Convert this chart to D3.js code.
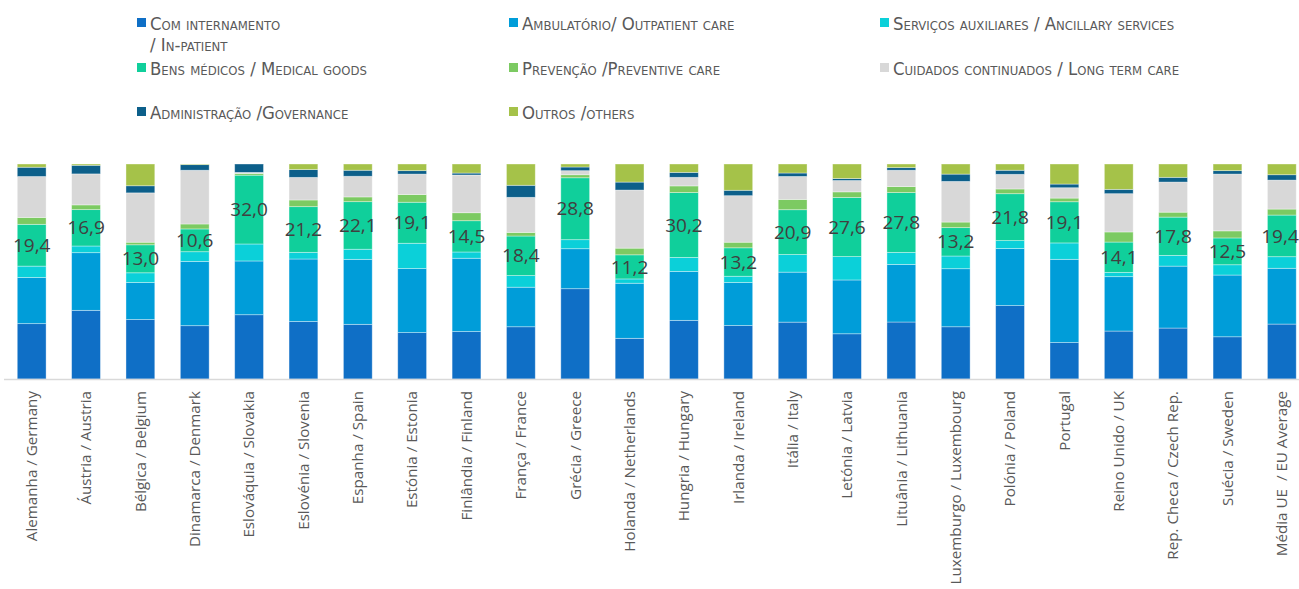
<!DOCTYPE html>
<html>
<head>
<meta charset="utf-8">
<script src="https://cdn.jsdelivr.net/npm/d3@7"></script>
<style>
  body { margin: 0; background: #fff; }
  svg { display: block; }
</style>
</head>
<body>
<div id="chart"></div>
<script>
// Categories (countries)
const countries = [
  'Alemanha / Germany', 'Áustria / Austria', 'Bélgica / Belgium', 'Dinamarca / Denmark',
  'Eslováquia / Slovakia', 'Eslovénia / Slovenia', 'Espanha / Spain', 'Estónia / Estonia',
  'Finlândia / Finland', 'França / France', 'Grécia / Greece', 'Holanda / Netherlands',
  'Hungria / Hungary', 'Irlanda / Ireland', 'Itália / Italy', 'Letónia / Latvia',
  'Lituânia / Lithuania', 'Luxemburgo / Luxembourg', 'Polónia / Poland', 'Portugal',
  'Reino Unido / UK', 'Rep. Checa / Czech Rep.', 'Suécia / Sweden', 'Média UE  / EU Average'
]

// Series values (% of health expenditure)
const inpatient  = [25.7, 31.9, 27.6, 24.8, 29.9, 26.7, 25.4, 21.6, 22.0, 24.3, 42.0, 18.9, 27.3, 24.8, 26.5, 21.1, 26.5, 24.3, 34.1, 16.9, 22.3, 23.7, 19.7, 25.6]
const outpatient = [21.4, 26.8, 17.2, 29.9, 25.0, 29.0, 30.2, 29.8, 34.0, 18.4, 18.6, 25.6, 22.8, 20.0, 23.3, 25.1, 26.8, 27.0, 26.5, 38.6, 25.3, 28.8, 28.8, 26.0]
const ancillary  = [5.3, 3.1, 4.5, 4.5, 7.9, 3.1, 4.7, 11.8, 2.9, 5.4, 4.2, 2.0, 6.5, 2.9, 8.2, 10.9, 5.6, 5.9, 3.7, 7.6, 2.0, 5.0, 4.8, 5.4]
const medical    = [19.4, 16.9, 13.0, 10.6, 32.0, 21.2, 22.1, 19.1, 14.5, 18.4, 28.8, 11.2, 30.2, 13.2, 20.9, 27.6, 27.8, 13.2, 21.8, 19.1, 14.1, 17.8, 12.5, 19.4]
const preventive = [3.2, 2.2, 1.2, 2.3, 0.8, 3.1, 2.2, 3.6, 3.7, 1.7, 1.4, 3.1, 3.1, 2.6, 4.8, 2.6, 2.8, 2.6, 2.2, 1.7, 4.7, 2.3, 3.3, 2.8]
const longTerm   = [19.0, 14.4, 22.9, 25.0, 0.5, 10.5, 9.6, 9.5, 17.5, 16.3, 1.9, 27.0, 4.0, 21.6, 10.7, 5.3, 7.6, 18.9, 6.8, 4.8, 17.8, 14.0, 26.5, 13.5]
const governance = [4.3, 4.0, 3.3, 2.6, 3.9, 3.6, 2.8, 1.6, 0.9, 5.6, 1.7, 3.7, 2.3, 2.5, 1.6, 0.9, 1.2, 3.4, 1.9, 1.7, 2.0, 2.2, 1.6, 2.5]
const others     = [1.5, 0.6, 10.1, 0.3, 0.0, 2.6, 2.9, 3.1, 4.2, 9.9, 1.4, 8.4, 3.9, 12.2, 4.2, 6.8, 1.7, 4.7, 2.9, 9.3, 11.8, 6.2, 3.1, 5.0]

// Legend labels
const seriesNames = [
  ['Com internamento', '/ In-patient'],
  ['Ambulatório/ Outpatient care'],
  ['Serviços auxiliares / Ancillary services'],
  ['Bens médicos / Medical goods'],
  ['Prevenção /Preventive care'],
  ['Cuidados continuados / Long term care'],
  ['Administração /Governance'],
  ['Outros /others']
]

const colors = ['#0f6fc6', '#009dd9', '#0bd0d9', '#10cf9b', '#7cca62', '#d8d8d8', '#0c5f8a', '#a5c249']

const width = 1299,
  height = 589,
  plotTop = 164,
  plotBottom = 379

const keys = d3.range(8)
const allSeries = [inpatient, outpatient, ancillary, medical, preventive, longTerm, governance, others]

const table = countries.map((c, i) => {
  const row = { country: c }
  keys.forEach(k => { row[k] = allSeries[k][i] })
  return row
})

const stacked = d3.stack()
  .keys(keys)
  .offset(d3.stackOffsetExpand)(table)

const svg = d3.select('#chart')
  .append('svg')
  .attr('width', width)
  .attr('height', height)

const x = d3.scaleBand()
  .domain(countries)
  .range([4.5, 1309])
  .paddingInner(0.47)
  .paddingOuter(0.235)

const y = d3.scaleLinear()
  .domain([0, 1])
  .range([plotBottom, plotTop])

// bars
svg.append('g')
  .selectAll('g')
  .data(stacked)
  .join('g')
  .attr('fill', d => colors[d.key])
  .selectAll('rect')
  .data(d => d)
  .join('rect')
  .attr('x', d => x(d.data.country))
  .attr('y', d => y(d[1]))
  .attr('width', x.bandwidth())
  .attr('height', d => Math.max(0, y(d[0]) - y(d[1])))
  .attr('stroke', '#ffffff')
  .attr('stroke-opacity', 0.45)
  .attr('stroke-width', 0.8)

// axis line
svg.append('line')
  .attr('x1', 4)
  .attr('x2', width)
  .attr('y1', plotBottom + 0.5)
  .attr('y2', plotBottom + 0.5)
  .attr('stroke', '#d9d9d9')
  .attr('stroke-width', 1.5)

// labels on medical goods segment
const med = stacked[3]
svg.append('g')
  .selectAll('text')
  .data(med)
  .join('text')
  .attr('x', d => Math.min(x(d.data.country) + x.bandwidth() / 2, width - 19))
  .attr('y', d => y((d[0] + d[1]) / 2))
  .attr('dy', '0.35em')
  .attr('text-anchor', 'middle')
  .attr('font-family', '"Open Sans", sans-serif')
  .attr('font-size', 19)
  .attr('fill', '#404040')
  .text(d => d3.format('.1f')(d.data[3]).replace('.', ','))

// x axis labels
const xAxis = d3.axisBottom(x).tickSize(0).tickPadding(0)
const gx = svg.append('g')
  .attr('transform', `translate(0, ${plotBottom})`)
  .call(xAxis)
gx.select('.domain').remove()
gx.selectAll('text')
  .attr('transform', 'rotate(-90)')
  .attr('x', -12)
  .attr('y', 0)
  .attr('dy', '0.35em')
  .attr('text-anchor', 'end')
  .attr('font-family', '"Open Sans", sans-serif')
  .attr('font-size', 15.2)
  .attr('fill', '#595959')
  .style('white-space', 'pre')

// legend
const legendX = [137, 509, 880]
const legendY = [23, 68, 112]
const legend = svg.append('g')
seriesNames.forEach((lines, i) => {
  const lx = legendX[i % 3],
    ly = legendY[Math.floor(i / 3)]
  legend.append('rect')
    .attr('x', lx)
    .attr('y', ly - 5)
    .attr('width', 9)
    .attr('height', 9)
    .attr('fill', colors[i])
  const t = legend.append('text')
    .attr('font-family', '"DejaVu Sans Condensed", "DejaVu Sans", sans-serif')
    .attr('font-size', 18.4)
    .attr('font-variant', 'small-caps')
    .attr('fill', '#595959')
  lines.forEach((l, j) => {
    t.append('tspan')
      .attr('x', lx + 13)
      .attr('y', ly + 6.5 + j * 21)
      .text(l)
  })
})
</script>
</body>
</html>
